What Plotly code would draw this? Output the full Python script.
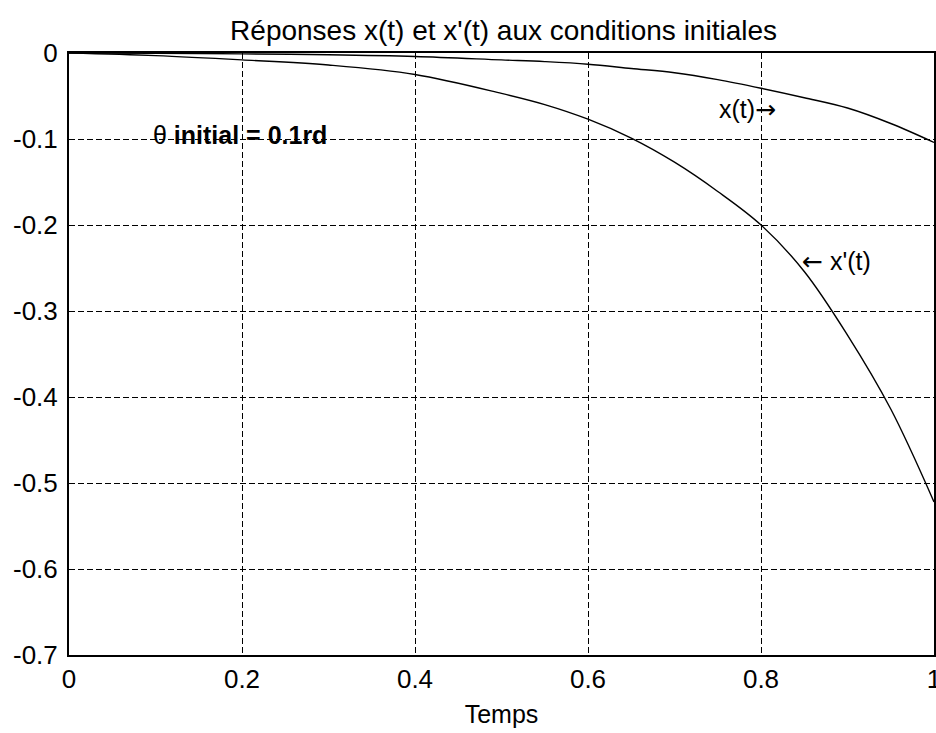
import plotly.graph_objects as go

# Time samples (s)
t = [0, 0.1, 0.2, 0.3, 0.4, 0.5, 0.55, 0.6, 0.65, 0.7, 0.75, 0.8, 0.85, 0.9, 0.95, 1.0]
# x(t)
x_t = [0, -0.0003, -0.001, -0.002, -0.004, -0.008, -0.010, -0.013, -0.018, -0.023,
       -0.031, -0.041, -0.052, -0.064, -0.082, -0.104]
# x'(t)
xp_t = [0, -0.003, -0.008, -0.014, -0.025, -0.047, -0.060, -0.077, -0.099, -0.127,
        -0.161, -0.200, -0.254, -0.328, -0.414, -0.522]

x_ticks = [0, 0.2, 0.4, 0.6, 0.8, 1]
x_tick_labels = ["0", "0.2", "0.4", "0.6", "0.8", "1"]
y_ticks = [0, -0.1, -0.2, -0.3, -0.4, -0.5, -0.6, -0.7]
y_tick_labels = ["0", "-0.1", "-0.2", "-0.3", "-0.4", "-0.5", "-0.6", "-0.7"]

FONT = "Arial, Liberation Sans, sans-serif"

fig = go.Figure()
fig.add_trace(go.Scatter(x=t, y=x_t, mode="lines", line=dict(color="black", width=1.4),
                         line_shape="spline", name="x(t)", showlegend=False))
fig.add_trace(go.Scatter(x=t, y=xp_t, mode="lines", line=dict(color="black", width=1.4),
                         line_shape="spline", name="x'(t)", showlegend=False))

fig.add_annotation(x=0.198, y=-0.095, text="θ <b>initial = 0.1rd</b>", showarrow=False,
                   font=dict(family=FONT, size=25, color="black"), xanchor="center", yanchor="middle")
fig.add_annotation(x=0.784, y=-0.066,
                   text="x(t)<span style='font-family:DejaVu Sans'>→</span>", showarrow=False,
                   font=dict(family=FONT, size=25, color="black"), xanchor="center", yanchor="middle")
fig.add_annotation(x=0.887, y=-0.243,
                   text="<span style='font-family:DejaVu Sans'>←</span> x'(t)", showarrow=False,
                   font=dict(family=FONT, size=25, color="black"), xanchor="center", yanchor="middle")

W, H = 936, 733
fig.update_layout(
    width=W, height=H,
    margin=dict(l=69, r=2, t=53, b=78),
    paper_bgcolor="white", plot_bgcolor="white",
    title=dict(text="Réponses x(t) et x'(t) aux conditions initiales",
               x=0.538, xanchor="center", y=0.959, yanchor="middle",
               font=dict(family=FONT, size=28, color="black")),
    font=dict(family=FONT, color="black"),
)
fig.update_xaxes(range=[0, 1], tickvals=x_ticks, ticktext=x_tick_labels, automargin=False,
                 ticklabeloverflow="allow",
                 tickfont=dict(size=26), showgrid=True, gridcolor="black", griddash="6px,3px",
                 gridwidth=1.3, showline=True, linecolor="black", linewidth=2, mirror=True,
                 zeroline=False, ticks="",
                 title=dict(text="Temps", font=dict(size=25), standoff=12))
fig.update_yaxes(range=[-0.7, 0], tickvals=y_ticks, ticktext=y_tick_labels, automargin=False,
                 ticklabeloverflow="allow",
                 tickfont=dict(size=26), showgrid=True, gridcolor="black", griddash="6px,3px",
                 gridwidth=1.3, showline=True, linecolor="black", linewidth=2, mirror=True,
                 zeroline=False, ticks="outside", ticklen=4, tickcolor="white")

fig.write_html("out.html", config={"displayModeBar": False},
               post_script="document.body.style.margin='0px';document.body.style.overflow='hidden';")
